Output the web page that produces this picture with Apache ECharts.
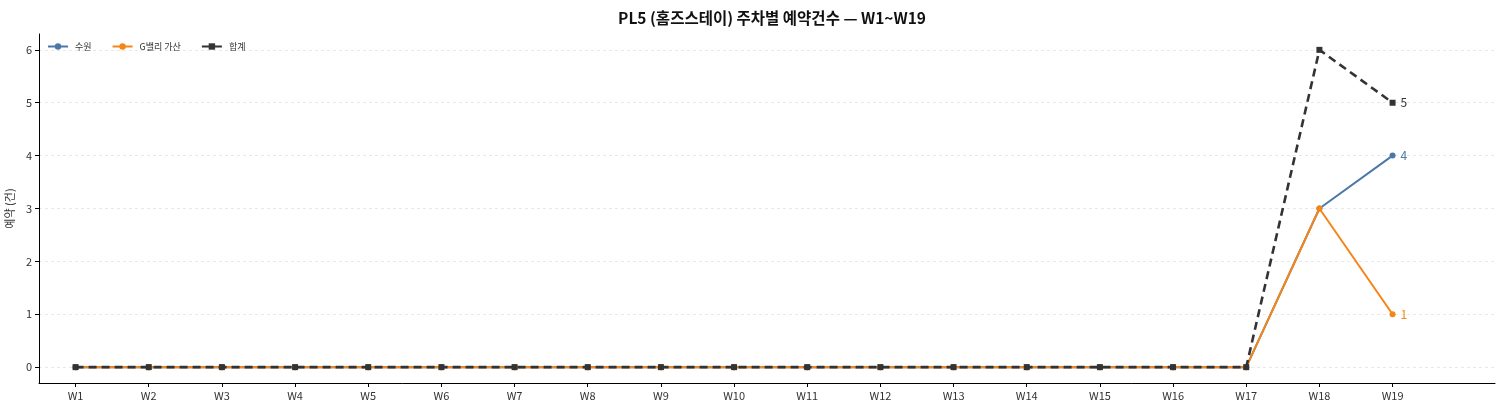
<!DOCTYPE html>
<html>
<head>
<meta charset="utf-8">
<script src="https://cdn.jsdelivr.net/npm/echarts@6/dist/echarts.min.js"></script>
<style>
html, body { margin: 0; padding: 0; background: #fff; }
#chart { width: 1503px; height: 411px; }
</style>
</head>
<body>
<div id="chart"></div>
<script>
var weeks = ["W1","W2","W3","W4","W5","W6","W7","W8","W9","W10","W11","W12","W13","W14","W15","W16","W17","W18","W19"];
var suwon  = [0,0,0,0,0,0,0,0,0,0,0,0,0,0,0,0,0,3,4];
var gvalley = [0,0,0,0,0,0,0,0,0,0,0,0,0,0,0,0,0,3,1];
var total  = [0,0,0,0,0,0,0,0,0,0,0,0,0,0,0,0,0,6,5];
var yTicks = [0,1,2,3,4,5,6];

var font = "'Noto Sans CJK KR', 'Noto Sans', sans-serif";
var idx = weeks.map(function (w, i) { return i; });

function pts(arr) {
    return arr.map(function (v, i) { return [i, v]; });
}

function lastLabel(color) {
    return {
        show: true,
        position: 'right',
        distance: 5,
        color: color,
        fontSize: 12,
        fontFamily: font,
        formatter: function (p) { return p.dataIndex === weeks.length - 1 ? p.value[1] : ''; }
    };
}

var myChart = echarts.init(document.getElementById('chart'));
var option = {
    animation: false,
    textStyle: { fontFamily: font },
    title: {
        text: 'PL5 (홈즈스테이) 주차별 예약건수 — W1~W19',
        left: 767,
        textAlign: 'center',
        top: 5,
        textStyle: { fontSize: 15.5, fontWeight: 'bold', color: '#111', fontFamily: font }
    },
    legend: {
        left: 47,
        top: 42,
        padding: 0,
        itemWidth: 20,
        itemHeight: 8,
        itemGap: 20,
        textStyle: { fontSize: 9, color: '#333', fontFamily: font, padding: [0, 0, 0, 2] },
        data: ['수원', 'G밸리 가산', '합계']
    },
    grid: { left: 39, right: 8, top: 34, bottom: 28, containLabel: false, outerBoundsMode: 'none' },
    xAxis: {
        type: 'value',
        min: -0.5,
        max: 19.4,
        axisLine: { show: true, onZero: false, lineStyle: { color: '#000', width: 1 } },
        axisTick: { show: true, length: 4, customValues: idx, lineStyle: { color: '#000' } },
        axisLabel: {
            customValues: idx,
            fontSize: 11,
            color: '#333',
            margin: 7,
            formatter: function (v) { return weeks[Math.round(v)]; }
        },
        splitLine: { show: false }
    },
    yAxis: {
        type: 'value',
        min: -0.3,
        max: 6.3,
        name: '예약 (건)',
        nameLocation: 'middle',
        nameGap: 21,
        nameTextStyle: { fontSize: 11, color: '#333', fontFamily: font },
        axisLine: { show: true, onZero: false, lineStyle: { color: '#000', width: 1 } },
        axisTick: { show: true, length: 4, customValues: yTicks, lineStyle: { color: '#000' } },
        axisLabel: { customValues: yTicks, fontSize: 11, color: '#333', margin: 7 },
        splitLine: { show: true, lineStyle: { color: '#e8e8e8', type: [3, 3], width: 1 } }
    },
    series: [
        {
            name: '수원',
            type: 'line',
            data: pts(suwon),
            symbol: 'circle',
            symbolSize: 6,
            itemStyle: { color: '#4c78a8' },
            lineStyle: { color: '#4c78a8', width: 2 },
            label: lastLabel('#4c78a8'),
            z: 2
        },
        {
            name: 'G밸리 가산',
            type: 'line',
            data: pts(gvalley),
            symbol: 'circle',
            symbolSize: 6,
            itemStyle: { color: '#f58518' },
            lineStyle: { color: '#f58518', width: 2 },
            label: lastLabel('#f58518'),
            z: 3
        },
        {
            name: '합계',
            type: 'line',
            data: pts(total),
            symbol: 'rect',
            symbolSize: 6,
            itemStyle: { color: '#333333' },
            lineStyle: { color: '#333333', width: 2.6, type: [8, 5] },
            label: lastLabel('#333333'),
            z: 4
        }
    ]
};
option && myChart.setOption(option);
</script>
</body>
</html>
